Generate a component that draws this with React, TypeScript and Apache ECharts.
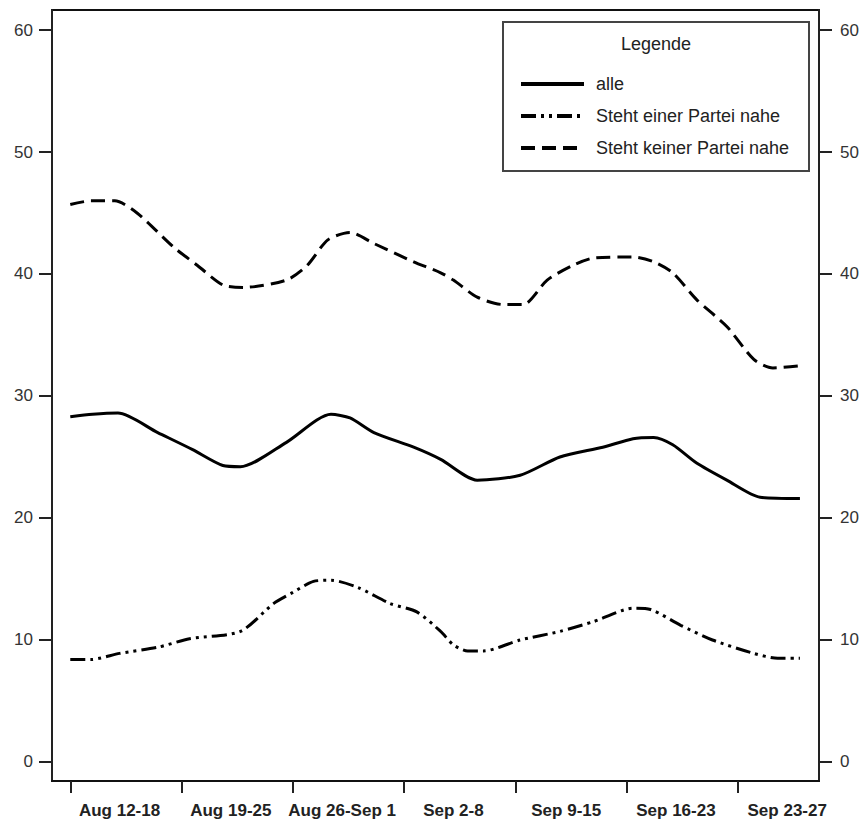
import React, { useEffect, useRef } from "react";
import * as echarts from "echarts";

// Days since Aug 12 (x) and share in percent (y)
const DAYS_ALLE = [0, 1.4, 3, 5.5, 7.7, 9.6, 10.7, 13.6, 16.4, 17.6, 19.1, 21.6, 23.3, 25.6, 28.3, 30.8, 33.5, 35.4, 36.7, 37.9, 39.4, 41.3, 43.4, 45.9];
const ALLE = [28.3, 28.5, 28.6, 27.0, 25.6, 24.3, 24.2, 26.2, 28.5, 28.2, 27.0, 25.8, 24.8, 23.1, 23.5, 25.0, 25.8, 26.5, 26.6, 26.0, 24.5, 23.1, 21.7, 21.6];

const DAYS_EINER = [0, 1.3, 3.1, 5.5, 7.5, 10.7, 12.8, 14.0, 15.3, 16.4, 18.1, 20.1, 21.8, 23.3, 24.1, 25.0, 26.0, 28.3, 30.8, 32.9, 35.4, 36.5, 38.4, 40.4, 43.0, 44.5, 45.9];
const EINER = [8.4, 8.4, 8.9, 9.4, 10.1, 10.7, 13.0, 13.9, 14.8, 14.9, 14.3, 13.0, 12.3, 10.7, 9.6, 9.1, 9.1, 10.0, 10.7, 11.5, 12.6, 12.5, 11.2, 10.0, 8.9, 8.5, 8.5];

const DAYS_KEINER = [0, 1.3, 2.8, 4.2, 6.5, 8.0, 9.6, 10.9, 13.6, 14.9, 16.2, 17.6, 19.1, 21.6, 23.3, 24.1, 25.6, 27.2, 28.5, 30.0, 31.6, 32.9, 35.4, 36.7, 37.9, 39.4, 41.3, 43.0, 44.2, 46.1];
const KEINER = [45.7, 46.0, 46.0, 45.0, 42.2, 40.7, 39.1, 38.9, 39.5, 40.7, 42.8, 43.4, 42.5, 41.0, 40.1, 39.5, 38.1, 37.5, 37.5, 39.5, 40.7, 41.3, 41.4, 41.0, 40.1, 37.9, 35.7, 33.0, 32.3, 32.5];

const SERIES_NAMES = ["alle", "Steht einer Partei nahe", "Steht keiner Partei nahe"];

const WEEK_TICKS = [0, 7, 14, 21, 28, 35, 42];
const WEEK_LABEL_POS = [3.1, 10.1, 17.1, 24.1, 31.2, 38.1, 45.1];
const WEEK_LABELS = ["Aug 12-18", "Aug 19-25", "Aug 26-Sep 1", "Sep 2-8", "Sep 9-15", "Sep 16-23", "Sep 23-27"];

const Y_TICKS = [0, 10, 20, 30, 40, 50, 60];

const FONT = "'Liberation Sans', Arial, sans-serif";

function pairs(xs: number[], ys: number[]) {
  return xs.map((x, i) => [x, ys[i]]);
}

export default function App() {
  const ref = useRef<HTMLDivElement>(null);

  useEffect(() => {
    document.body.style.margin = "0";
    if (!ref.current) return;
    const chart = echarts.init(ref.current, undefined, { renderer: "svg" });

    const labelFor = (v: number) => {
      let best = 0;
      let bd = Infinity;
      WEEK_LABEL_POS.forEach((p, i) => {
        const d = Math.abs(p - v);
        if (d < bd) {
          bd = d;
          best = i;
        }
      });
      return WEEK_LABELS[best];
    };

    const yAxisBase = (position: "left" | "right", margin: number) => ({
      type: "value",
      position,
      min: -1.56,
      max: 61.64,
      splitLine: { show: false },
      axisLine: { show: true, onZero: false, lineStyle: { color: "#222", width: 2 } },
      axisTick: {
        show: true,
        customValues: Y_TICKS,
        length: 13,
        lineStyle: { color: "#222", width: 2 },
      },
      axisLabel: {
        customValues: Y_TICKS,
        margin,
        color: "#333",
        fontSize: 17,
        fontFamily: FONT,
      },
    });

    chart.setOption({
      animation: false,
      backgroundColor: "#fff",
      grid: {
        left: 52,
        right: 43,
        top: 10,
        bottom: 42,
        show: true,
        borderColor: "#111",
        borderWidth: 2,
      },
      xAxis: {
        type: "value",
        min: -1.15,
        max: 47.1,
        splitLine: { show: false },
        axisLine: { show: true, onZero: false, lineStyle: { color: "#111", width: 2 } },
        axisTick: {
          show: true,
          customValues: WEEK_TICKS,
          length: 12,
          lineStyle: { color: "#222", width: 2 },
        },
        axisLabel: {
          customValues: WEEK_LABEL_POS,
          formatter: (v: number) => labelFor(v),
          margin: 21,
          color: "#222",
          fontSize: 17,
          fontWeight: "bold",
          fontFamily: FONT,
        },
      },
      yAxis: [yAxisBase("left", 19), yAxisBase("right", 21)],
      legend: {
        orient: "vertical",
        left: 514,
        top: 70,
        itemWidth: 63,
        itemHeight: 14,
        itemGap: 14,
        selectedMode: false,
        data: SERIES_NAMES,
        itemStyle: { opacity: 0 },
        lineStyle: { width: 4 },
        textStyle: {
          fontSize: 18,
          fontFamily: FONT,
          color: "#222",
          padding: [0, 0, 0, 7],
          lineHeight: 18,
        },
      },
      graphic: [
        {
          type: "rect",
          z: 1,
          shape: { x: 503, y: 22, width: 306, height: 149 },
          style: { fill: "#fff", stroke: "#444", lineWidth: 2 },
        },
        {
          type: "text",
          z: 2,
          x: 656,
          y: 44,
          style: {
            text: "Legende",
            fontSize: 18,
            fontFamily: FONT,
            fill: "#222",
            align: "center",
            verticalAlign: "middle",
          },
        },
      ],
      series: [
        {
          name: SERIES_NAMES[0],
          type: "line",
          data: pairs(DAYS_ALLE, ALLE),
          showSymbol: false,
          symbol: "none",
          smooth: 0.25,
          lineStyle: { color: "#000", width: 3, type: "solid" },
          itemStyle: { color: "#000" },
        },
        {
          name: SERIES_NAMES[1],
          type: "line",
          data: pairs(DAYS_EINER, EINER),
          showSymbol: false,
          symbol: "none",
          smooth: 0.25,
          lineStyle: { color: "#000", width: 3, type: [15, 5, 3, 5, 3, 5] },
          itemStyle: { color: "#000" },
        },
        {
          name: SERIES_NAMES[2],
          type: "line",
          data: pairs(DAYS_KEINER, KEINER),
          showSymbol: false,
          symbol: "none",
          smooth: 0.25,
          lineStyle: { color: "#000", width: 3, type: [14, 7] },
          itemStyle: { color: "#000" },
        },
      ],
    });

    return () => chart.dispose();
  }, []);

  return <div ref={ref} style={{ width: 862, height: 823 }} />;
}
